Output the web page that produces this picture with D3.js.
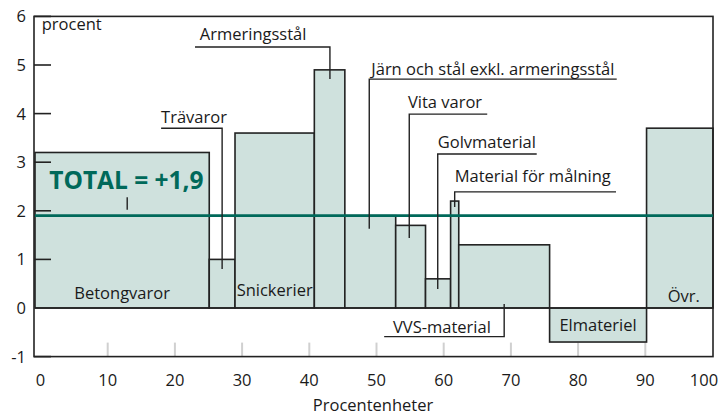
<!DOCTYPE html>
<html>
<head>
<meta charset="utf-8">
<script src="https://cdn.jsdelivr.net/npm/d3@7"></script>
<style>
  body { margin: 0; background: #fff; }
  text { font-family: "Open Sans", sans-serif; fill: #1a1a1a; }
</style>
</head>
<body>
<div id="chart-area"></div>
<script>
// varugrupper, bredd i procentenheter (x) och prisförändring i procent (y)
var categories = ["Betongvaror", "Trävaror", "Snickerier", "Armeringsstål",
    "Järn och stål exkl. armeringsstål", "Vita varor", "Golvmaterial",
    "Material för målning", "VVS-material", "Elmateriel", "Övr."];
var widths = [25.7, 3.8, 11.7, 4.5, 7.5, 4.4, 3.7, 1.2, 13.4, 14.3, 9.8];
var values = [3.2, 1.0, 3.6, 4.9, 1.9, 1.7, 0.6, 2.2, 1.3, -0.7, 3.7];
var total = 1.9;
var xTicks = [0, 10, 20, 30, 40, 50, 60, 70, 80, 90, 100];
var yTicks = [-1, 0, 1, 2, 3, 4, 5, 6];

var width = 722, height = 416;
var fontSize = 16.5;

// bars use the full frame, tick labels are set in a little bit (as in the original)
var x = d3.scaleLinear().domain([0, 100]).range([35, 713]);
var xLab = d3.scaleLinear().domain([0, 100]).range([40.5, 712.5]);
var y = d3.scaleLinear().domain([-1, 6]).range([356.6, 16.4]);

var svg = d3.select("#chart-area").append("svg")
    .attr("width", width)
    .attr("height", height);

// stacking the widths into start positions
var start = 0;
var bars = categories.map(function(c, i){
    var b = {name: c, x0: start, x1: start + widths[i], v: values[i]};
    start += widths[i];
    return b;
});

// light grey ticks at the bottom of the frame
svg.selectAll(".xtick").data(xTicks.slice(1, -1))
    .enter().append("line")
    .attr("x1", function(d){ return xLab(d); })
    .attr("x2", function(d){ return xLab(d); })
    .attr("y1", y(-1) - 14)
    .attr("y2", y(-1))
    .attr("stroke", "#d0d0d0")
    .attr("stroke-width", 2);

// the bars
svg.selectAll("rect.bar").data(bars)
    .enter().append("rect")
    .attr("class", "bar")
    .attr("x", function(d){ return x(d.x0); })
    .attr("width", function(d){ return x(d.x1) - x(d.x0); })
    .attr("y", function(d){ return y(Math.max(0, d.v)); })
    .attr("height", function(d){ return Math.abs(y(d.v) - y(0)); })
    .attr("fill", "#cfe1dd")
    .attr("stroke", "#222")
    .attr("stroke-width", 1.6);

// zero line
svg.append("line")
    .attr("x1", x(0)).attr("x2", x(100))
    .attr("y1", y(0)).attr("y2", y(0))
    .attr("stroke", "#222").attr("stroke-width", 1.6);

// frame
svg.append("rect")
    .attr("x", 34).attr("y", y(6))
    .attr("width", 679).attr("height", y(-1) - y(6))
    .attr("fill", "none")
    .attr("stroke", "#222")
    .attr("stroke-width", 1.6);

// y ticks (short, inside the frame)
svg.selectAll(".ytick").data(yTicks.filter(function(d){ return d !== 0; }))
    .enter().append("line")
    .attr("x1", 34).attr("x2", 51)
    .attr("y1", function(d){ return y(d); })
    .attr("y2", function(d){ return y(d); })
    .attr("stroke", "#222")
    .attr("stroke-width", 1.6);

svg.selectAll(".ylab").data(yTicks)
    .enter().append("text")
    .attr("x", 26)
    .attr("y", function(d){ return y(d) + 6; })
    .attr("text-anchor", "end")
    .attr("font-size", fontSize)
    .text(function(d){ return d; });

// the last label would run off the page, so it is pulled in
svg.selectAll(".xlab").data(xTicks)
    .enter().append("text")
    .attr("x", function(d){ return Math.min(xLab(d), 704); })
    .attr("y", 386)
    .attr("text-anchor", "middle")
    .attr("font-size", fontSize)
    .text(function(d){ return d; });

svg.append("text")
    .attr("x", 373).attr("y", 411)
    .attr("text-anchor", "middle")
    .attr("font-size", fontSize)
    .text("Procentenheter");

svg.append("text")
    .attr("x", x(1)).attr("y", y(5.72))
    .attr("font-size", fontSize)
    .text("procent");

// total line
svg.append("line")
    .attr("x1", x(0)).attr("x2", x(100))
    .attr("y1", y(total)).attr("y2", y(total))
    .attr("stroke", "#00695a")
    .attr("stroke-width", 2.6);

svg.append("text")
    .attr("x", x(2.1)).attr("y", y(2.45))
    .attr("font-size", 24.5)
    .attr("font-weight", "bold")
    .style("fill", "#00695a")
    .text("TOTAL = +" + String(total).replace(".", ","));

svg.append("line")
    .attr("x1", x(13.6)).attr("x2", x(13.6))
    .attr("y1", y(2.28)).attr("y2", y(2.02))
    .attr("stroke", "#222").attr("stroke-width", 1.4);

// labels inside / under their own bars: [index, baseline value, x nudge]
var barLabels = [[0, 0.19, 0], [2, 0.25, 0], [9, -0.47, 0], [10, 0.12, 0.6]];
svg.selectAll(".blab").data(barLabels)
    .enter().append("text")
    .attr("x", function(d){ return x((bars[d[0]].x0 + bars[d[0]].x1) / 2 + d[2]); })
    .attr("y", function(d){ return y(d[1]); })
    .attr("text-anchor", "middle")
    .attr("font-size", fontSize)
    .text(function(d){ return categories[d[0]]; });

// labels with leader lines: [index, text x, text y, leader points]
var leaders = [
    [1, 18.6, 3.81, [[18.6, 3.70], [27.6, 3.70], [27.6, 0.80]]],
    [3, 24.3, 5.51, [[23.6, 5.37], [43.5, 5.37], [43.5, 4.71]]],
    [4, 49.6, 4.79, [[85.8, 4.71], [49.3, 4.71], [49.3, 1.63]]],
    [5, 55.0, 4.12, [[66.7, 3.99], [55.2, 3.99], [55.2, 1.44]]],
    [6, 59.4, 3.29, [[74.0, 3.17], [59.4, 3.17], [59.4, 0.39]]],
    [7, 61.9, 2.59, [[85.7, 2.39], [61.9, 2.39], [61.9, 2.08]]],
    [8, 52.8, -0.51, [[51.5, -0.59], [69.2, -0.59], [69.2, 0.08]]]
];

var line = d3.line()
    .x(function(p){ return x(p[0]); })
    .y(function(p){ return y(p[1]); });

svg.selectAll(".leader").data(leaders)
    .enter().append("path")
    .attr("d", function(d){ return line(d[3]); })
    .attr("fill", "none")
    .attr("stroke", "#222")
    .attr("stroke-width", 1.4);

svg.selectAll(".llab").data(leaders)
    .enter().append("text")
    .attr("x", function(d){ return x(d[1]); })
    .attr("y", function(d){ return y(d[2]); })
    .attr("font-size", fontSize)
    .text(function(d){ return categories[d[0]]; });
</script>
</body>
</html>
